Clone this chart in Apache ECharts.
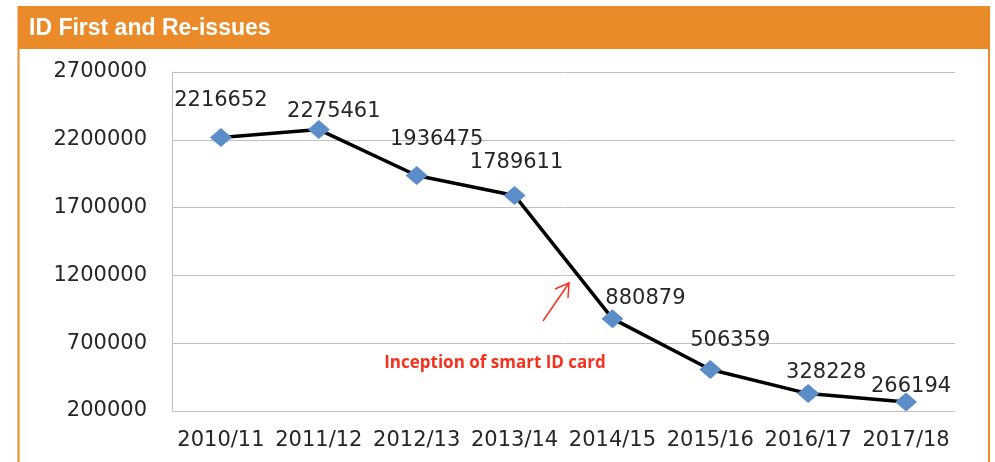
<!DOCTYPE html>
<html><head><meta charset="utf-8">
<style>html,body{margin:0;padding:0;background:#fff}#c{width:995px;height:462px}</style>
<script src="https://cdn.jsdelivr.net/npm/echarts@6/dist/echarts.min.js"></script>
</head><body><div id="c"></div>
<script>
const categories = ['2010/11','2011/12','2012/13','2013/14','2014/15','2015/16','2016/17','2017/18'];
const issues = [2216652, 2275461, 1936475, 1789611, 880879, 506359, 328228, 266194];
const yMin = 200000, yMax = 2700000, yStep = 500000;
const titleText = 'ID First and Re-issues';
const noteText = 'Inception of smart ID card';
// label offsets (styling only) relative to each marker centre
const labelOffsets = [[0,-37],[15,-18],[20,-36],[2,-33],[33,-20],[20,-29],[18,-21],[5,-15]];

const orange = '#EB8A28';
const red = '#F5321E';
const chart = echarts.init(document.getElementById('c'));
chart.setOption({
  animation: false,
  backgroundColor: '#fff',
  grid: {left: 172, right: 40, top: 72, bottom: 51, containLabel: false},
  xAxis: {
    type: 'category', data: categories, boundaryGap: true,
    axisLine: {show: true, lineStyle: {color: '#BFBFBF', width: 1}},
    axisTick: {show: false},
    axisLabel: {color: '#262626', fontFamily: 'DejaVu Sans', fontSize: 21, margin: 19, interval: 0}
  },
  yAxis: {
    type: 'value', min: yMin, max: yMax, interval: yStep,
    axisLine: {show: true, lineStyle: {color: '#BFBFBF', width: 1}},
    axisTick: {show: false},
    splitLine: {show: true, lineStyle: {color: '#BFBFBF', width: 1}},
    axisLabel: {color: '#262626', fontFamily: 'DejaVu Sans', fontSize: 21, margin: 25,
      formatter: v => String(v)}
  },
  series: [{
    type: 'line',
    data: issues.map((v, i) => ({value: v, label: {offset: labelOffsets[i]}})),
    lineStyle: {color: '#000', width: 3.5},
    symbol: 'diamond', symbolSize: [22, 19],
    itemStyle: {color: '#5B8DC8'},
    label: {show: true, position: 'inside', align: 'center', verticalAlign: 'middle',
      color: '#262626', fontFamily: 'DejaVu Sans', fontSize: 21},
    z: 3
  }],
  graphic: [
    {type: 'rect', shape: {x: 18, y: 6, width: 972, height: 43}, style: {fill: orange}, silent: true},
    {type: 'line', shape: {x1: 18.5, y1: 6, x2: 18.5, y2: 462}, style: {stroke: orange, lineWidth: 2}},
    {type: 'line', shape: {x1: 989, y1: 6, x2: 989, y2: 462}, style: {stroke: orange, lineWidth: 2}},
    {type: 'text', x: 29, y: 29, style: {text: titleText, fill: '#fff', font: 'bold 23px "Liberation Sans"', verticalAlign: 'middle'}},
    {type: 'text', x: 495, y: 363, style: {text: noteText, fill: red, font: 'bold 17px "Open Sans"', align: 'center', verticalAlign: 'middle'}},
    {type: 'polyline', shape: {points: [[543, 321], [569, 283]]}, style: {stroke: red, lineWidth: 1.5}},
    {type: 'polyline', shape: {points: [[555, 289], [569, 283], [568, 298]]}, style: {stroke: red, lineWidth: 1.5, fill: null}}
  ]
});
</script></body></html>
